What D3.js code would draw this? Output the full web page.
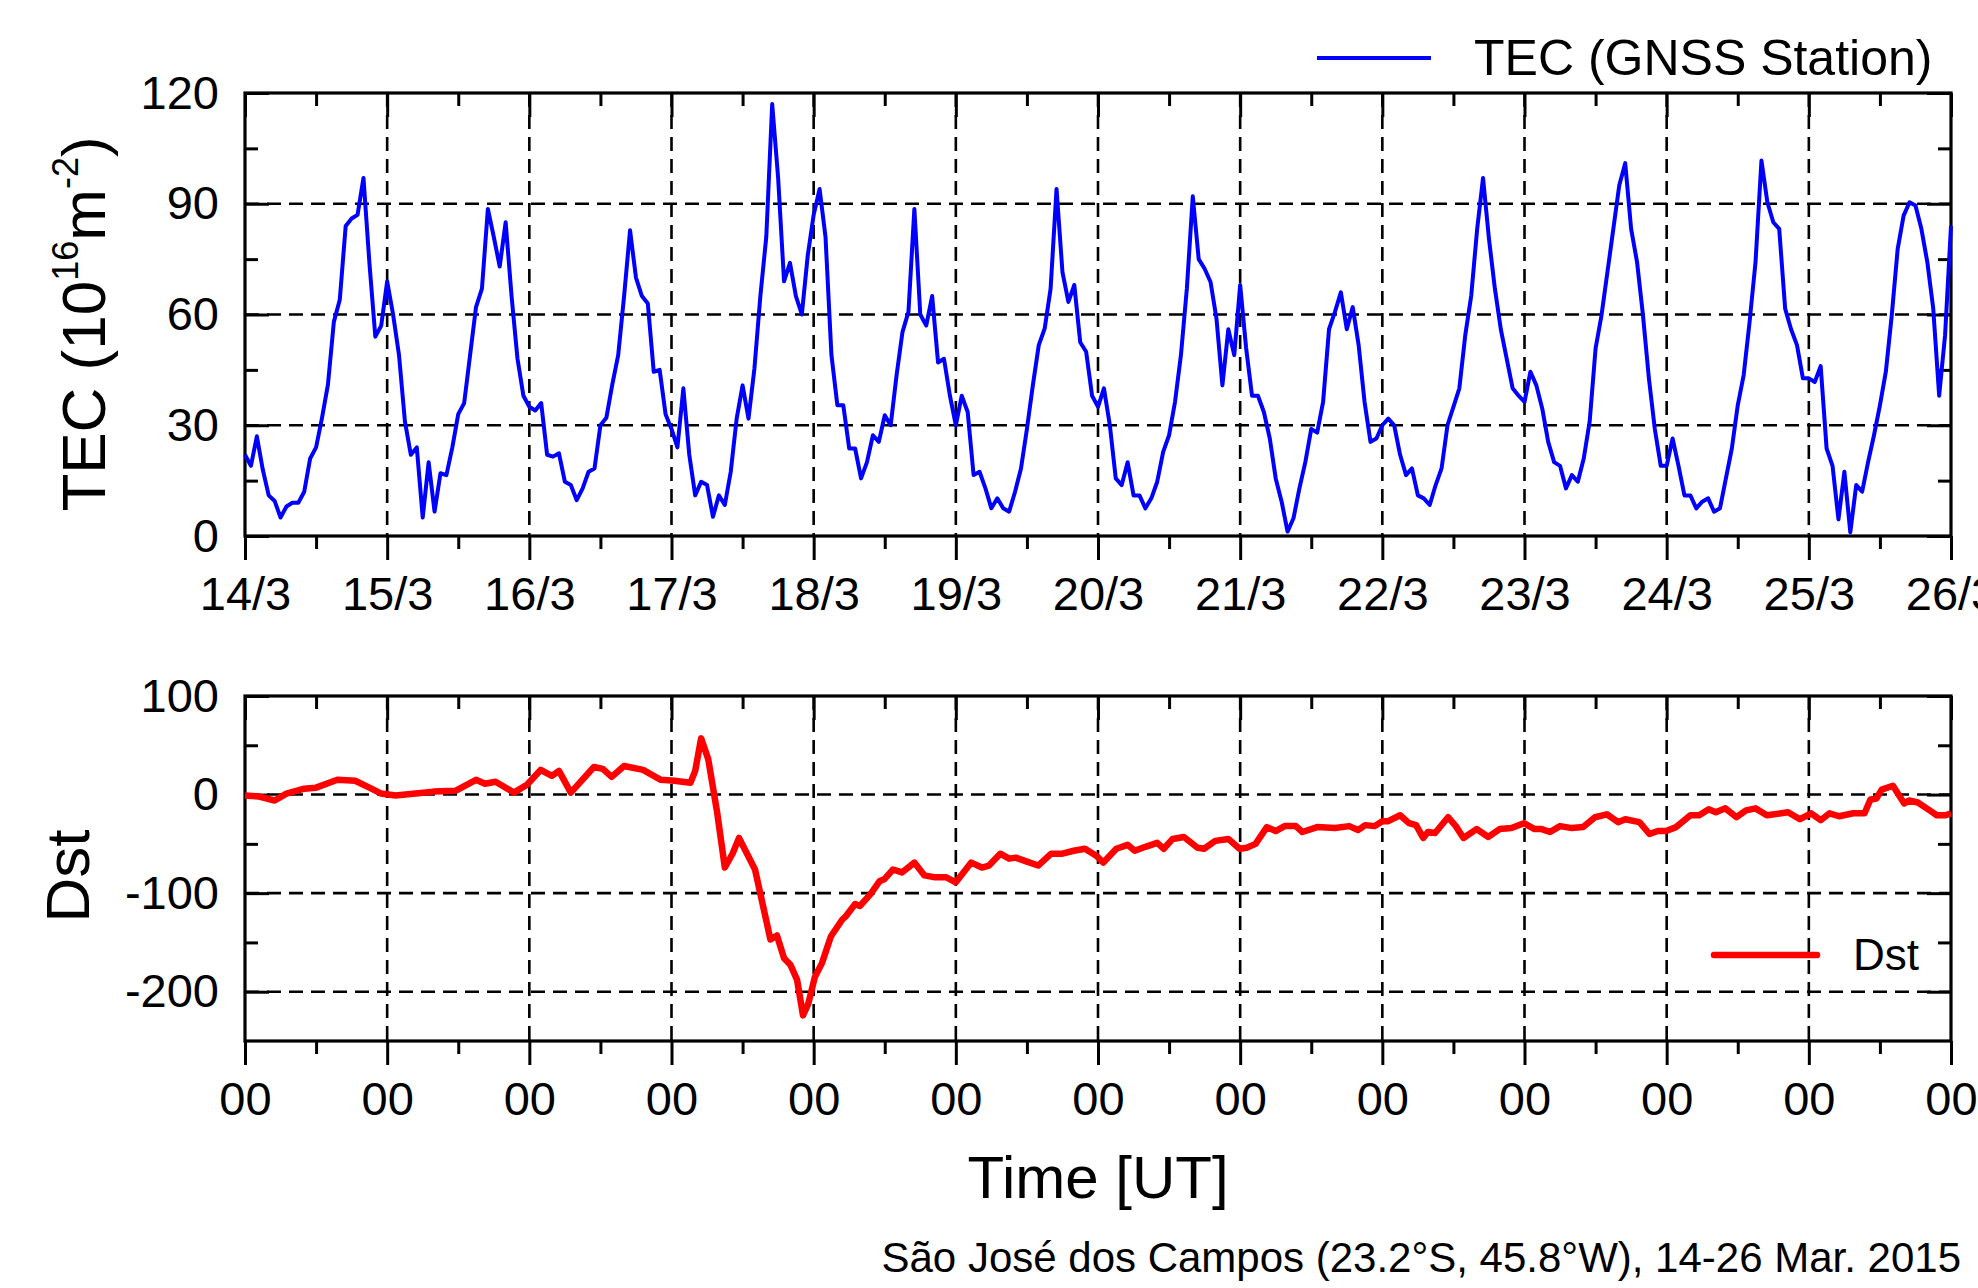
<!DOCTYPE html>
<html>
<head>
<meta charset="utf-8">
<script src="https://cdn.jsdelivr.net/npm/d3@7"></script>
<style>
  body { margin: 0; background: #fff; }
  svg { display: block; }
  text { font-family: "Liberation Sans", Arial, sans-serif; fill: #000; }
</style>
</head>
<body>
<svg id="chart" width="1978" height="1288"></svg>
<script>
// x axis: hours since 14/3 00 UT
const dayLabels = ["14/3", "15/3", "16/3", "17/3", "18/3", "19/3", "20/3", "21/3", "22/3", "23/3", "24/3", "25/3", "26/3"]
const hourLabel = "00"

// TEC, hourly values (10^16 m^-2)
const tecValues = [
  22, 19, 27, 18, 11, 9.5, 5, 8, 9, 9, 12, 21, 24, 32, 41, 58, 64, 84, 86, 87, 97, 74, 54, 57,             // 14/3
  69, 60, 49, 31, 22, 24, 5, 20, 6.6, 17, 16.5, 24, 33, 36, 49, 62, 67, 88.6, 81, 73, 85, 65, 48, 38,      // 15/3
  35, 34, 36, 22, 21.5, 22.4, 14.7, 13.8, 9.7, 12.9, 17.4, 18.3, 30, 32, 41, 49, 65, 82.8, 70, 65, 63, 44.5, 45, 33, // 16/3
  29, 24, 40, 22, 11, 14.7, 13.8, 5.2, 11, 8.4, 17.4, 31.8, 40.8, 31.8, 45.4, 65, 81, 117, 97, 69, 74, 65, 60, 76,   // 17/3
  87, 94, 81, 49, 35.4, 35.4, 23.7, 23.7, 15.6, 20, 27.3, 25.5, 32.7, 30, 43.6, 55.3, 60.7, 88.6, 60, 57, 65, 47, 48, 38, // 18/3
  30, 38, 33.6, 16.5, 17.4, 12.9, 7.5, 10.2, 7.5, 6.6, 12, 18.3, 29, 40.8, 51.7, 56.2, 67, 94, 71.5, 63.4, 68, 52.5, 49.9, 38, // 19/3
  35, 40, 30, 15.6, 13.8, 20, 11, 11, 7.5, 10.2, 14.7, 22.8, 27.3, 36.3, 49, 67, 92, 75, 72.4, 68.8, 58.9, 40.8, 56, 49, // 20/3
  68, 51, 38, 38, 33.6, 26.4, 15.6, 9.3, 1.2, 4.8, 12.9, 20, 29, 28, 36.3, 56, 60.7, 66, 56, 62, 51.7, 36.3, 25.5, 26.4, // 21/3
  30, 31.8, 30, 22, 16.5, 18.3, 11, 10.2, 8.4, 13.8, 18.3, 30, 35, 40, 54.4, 65, 83, 97, 80.5, 67, 56, 48, 40, 38,   // 22/3
  36.3, 44.5, 40.8, 34.5, 25.5, 20, 19, 12.9, 16.5, 14.7, 21, 31, 50.8, 59.8, 71.5, 83.2, 95, 101, 83.2, 74.2, 59.8, 42.7, 29, 19, // 23/3
  19, 26.4, 19, 11, 11, 7.5, 9.3, 10.2, 6.6, 7.5, 15.6, 23.7, 35.4, 43.6, 58, 74.2, 101.7, 90.4, 85, 83.2, 61.6, 56, 51.7, 42.7, // 24/3
  42.7, 41.7, 46, 23.7, 19, 4.5, 17.4, 1, 13.8, 12, 20, 27.3, 35.4, 44.5, 59.8, 77.8, 86.8, 90.4, 89.5, 83.2, 74.2, 61.6, 38, 54.4, // 25/3
  84
]

// Dst (nT) at the hours where it turns
const dstHours = [0, 2.4, 5, 7, 10, 12, 15.6, 18.6, 21, 23, 25.4, 28.8, 31.8, 35.6, 39, 40.5, 42.3, 45.4, 47.6, 49.9,
  51.8, 53, 55, 58.9, 60.4, 61.9, 64, 67.2, 70.2, 72.5, 75.2, 76, 77, 78.2, 79.7, 81, 82.3, 83.4, 86.1, 88.7,
  89.8, 91, 92.1, 93.2, 94.2, 95.1, 96.2, 97.4, 98.9, 100.8, 101.5, 103, 103.8, 105.6, 107.1, 107.9, 109.4, 110.9, 113, 114.7,
  116.5, 118.4, 120, 122.6, 124.4, 125.6, 127.5, 129, 130.1, 132, 133.9, 136.1, 138, 139.9, 141.8, 143.7, 144.9, 147.1, 149, 150.2,
  152, 154, 155.1, 156.6, 158.5, 160.8, 161.9, 163.8, 166, 167.9, 169.1, 170.6, 172.5, 174, 175.5, 177.4, 178.5, 181, 184, 186.4,
  187.9, 189.1, 190.7, 192, 193, 195, 196.5, 197.7, 198.9, 199.7, 200.9, 203.1, 204.4, 205.7, 207.9, 209.9, 211.8, 213.8, 215.9, 217.7,
  218.9, 220.3, 222, 224, 225.9, 227.9, 229.9, 231.8, 233, 235.4, 237.1, 238.5, 239.9, 241.6, 244, 245.5, 247.1, 248.3, 249.9, 251.8,
  253.4, 255, 256.9, 260.5, 262.5, 264.4, 266, 267.5, 269.1, 271.5, 273.4, 274.4, 275.4, 276.3, 278.2, 280.1, 280.9, 282.4, 284.4, 285.6,
  287.1, 288]
const dstValues = [-1, -2, -6, 1, 6, 7, 15, 14, 7, 1, -1, 1, 3, 4, 15, 11, 13, 2, 10, 25,
  19, 24, 2, 28, 26, 18, 29, 25, 15, 14, 12, 24, 57, 36, -18, -74, -60, -44, -76, -147,
  -143, -166, -173, -188, -224, -212, -185, -171, -144, -127, -123, -111, -113, -101, -88, -86, -76, -79, -69, -82,
  -84, -84, -89, -69, -74, -72, -60, -65, -64, -68, -72, -60, -60, -57, -55, -62, -69, -55, -51, -57,
  -53, -49, -55, -45, -43, -54, -55, -47, -45, -55, -54, -50, -33, -37, -32, -32, -38, -33, -34, -32,
  -36, -31, -32, -27, -27, -21, -29, -31, -44, -38, -39, -23, -32, -44, -35, -43, -35, -34, -29, -35,
  -35, -38, -32, -34, -33, -23, -20, -28, -25, -28, -40, -37, -37, -33, -21, -21, -15, -18, -14, -23,
  -16, -14, -21, -18, -25, -19, -26, -19, -22, -19, -19, -5, -4, 5, 9, -9, -6, -8, -16, -21,
  -21, -19]

const tecTicks = [0, 30, 60, 90, 120]
const tecMinor = [15, 45, 75, 105]
const dstTicks = [-200, -100, 0, 100]
const dstMinor = [-150, -50, 50]

const svg = d3.select("#chart")
const dayHours = d3.range(0, 289, 24)
const halfHours = d3.range(12, 288, 24)

const x = d3.scaleLinear().domain([0, 288]).range([245, 1951])
const yTec = d3.scaleLinear().domain([0, 120]).range([536, 93])
const yDst = d3.scaleLinear().domain([-250, 100]).range([1041, 696])

function styleAxis(g) {
  g.select(".domain").remove()
  g.selectAll("line").attr("stroke", "#000").attr("stroke-width", 3)
  g.selectAll("text").attr("font-size", 47).attr("fill", "#000")
}

function panel(y, major, minor, xFormat) {
  const [y0, y1] = y.range()
  const g = svg.append("g")

  // dashed grid
  g.append("g").selectAll("line")
    .data(dayHours.slice(1, -1))
    .join("line")
      .attr("x1", d => x(d)).attr("x2", d => x(d))
      .attr("y1", y1).attr("y2", y0)
      .attr("stroke", "#000").attr("stroke-width", 2.6).attr("stroke-dasharray", "14,8")
  g.append("g").selectAll("line")
    .data(major.filter(d => y(d) > y1 + 1 && y(d) < y0 - 1))
    .join("line")
      .attr("x1", x.range()[0]).attr("x2", x.range()[1])
      .attr("y1", d => y(d)).attr("y2", d => y(d))
      .attr("stroke", "#000").attr("stroke-width", 2.6).attr("stroke-dasharray", "14,8")

  // ticks: bottom outward, others inward
  g.append("g").attr("transform", `translate(0,${y0})`)
    .call(d3.axisBottom(x).tickValues(dayHours).tickSize(24).tickPadding(17).tickFormat(xFormat))
    .call(styleAxis)
  g.append("g").attr("transform", `translate(0,${y0})`)
    .call(d3.axisBottom(x).tickValues(halfHours).tickSize(13).tickFormat(""))
    .call(styleAxis)
  g.append("g").attr("transform", `translate(0,${y1})`)
    .call(d3.axisTop(x).tickValues(dayHours).tickSize(-24).tickFormat(""))
    .call(styleAxis)
  g.append("g").attr("transform", `translate(0,${y1})`)
    .call(d3.axisTop(x).tickValues(halfHours).tickSize(-13).tickFormat(""))
    .call(styleAxis)
  g.append("g").attr("transform", `translate(${x.range()[0]},0)`)
    .call(d3.axisLeft(y).tickValues(major).tickSize(-24).tickPadding(26).tickFormat(d => String(d)))
    .call(styleAxis)
  g.append("g").attr("transform", `translate(${x.range()[0]},0)`)
    .call(d3.axisLeft(y).tickValues(minor).tickSize(-13).tickFormat(""))
    .call(styleAxis)
  g.append("g").attr("transform", `translate(${x.range()[1]},0)`)
    .call(d3.axisRight(y).tickValues(major).tickSize(-24).tickFormat(""))
    .call(styleAxis)
  g.append("g").attr("transform", `translate(${x.range()[1]},0)`)
    .call(d3.axisRight(y).tickValues(minor).tickSize(-13).tickFormat(""))
    .call(styleAxis)

  g.append("rect")
    .attr("x", x.range()[0]).attr("y", y1)
    .attr("width", x.range()[1] - x.range()[0]).attr("height", y0 - y1)
    .attr("fill", "none").attr("stroke", "#000").attr("stroke-width", 3.2)
  return g
}

const tecPanel = panel(yTec, tecTicks, tecMinor, d => dayLabels[d / 24])
const dstPanel = panel(yDst, dstTicks, dstMinor, () => hourLabel)

// TEC line
tecPanel.append("path")
  .datum(tecValues)
  .attr("fill", "none").attr("stroke", "#0000ff").attr("stroke-width", 4)
  .attr("stroke-linejoin", "round")
  .attr("d", d3.line().x((d, i) => x(i)).y(d => yTec(d)))

// Dst line
dstPanel.append("path")
  .datum(dstHours.map((h, i) => [h, dstValues[i]]))
  .attr("fill", "none").attr("stroke", "#ff0000").attr("stroke-width", 6.5)
  .attr("stroke-linejoin", "round")
  .attr("d", d3.line().x(d => x(d[0])).y(d => yDst(d[1])))

// legends
svg.append("line").attr("x1", 1317).attr("x2", 1431).attr("y1", 58).attr("y2", 58)
  .attr("stroke", "#0000ff").attr("stroke-width", 4)
svg.append("text").attr("x", 1474).attr("y", 75).attr("font-size", 50).text("TEC (GNSS Station)")

svg.append("line").attr("x1", 1714).attr("x2", 1817).attr("y1", 955).attr("y2", 955)
  .attr("stroke", "#ff0000").attr("stroke-width", 6.5).attr("stroke-linecap", "round")
svg.append("text").attr("x", 1853).attr("y", 970).attr("font-size", 44).text("Dst")

// axis titles
const tecTitle = svg.append("text")
  .attr("transform", "translate(105,324) rotate(-90)")
  .attr("text-anchor", "middle").attr("font-size", 62)
tecTitle.append("tspan").text("TEC (10")
tecTitle.append("tspan").attr("font-size", 36).attr("dy", -27).text("16")
tecTitle.append("tspan").attr("dy", 27).text("m")
tecTitle.append("tspan").attr("font-size", 36).attr("dy", -27).text("-2")
tecTitle.append("tspan").attr("dy", 27).text(")")

svg.append("text")
  .attr("transform", "translate(89,876) rotate(-90)")
  .attr("text-anchor", "middle").attr("font-size", 62).text("Dst")

svg.append("text").attr("x", 1098).attr("y", 1198)
  .attr("text-anchor", "middle").attr("font-size", 60).text("Time [UT]")

svg.append("text").attr("x", 1961).attr("y", 1272)
  .attr("text-anchor", "end").attr("font-size", 42)
  .text("São José dos Campos (23.2°S, 45.8°W), 14-26 Mar. 2015")
</script>
</body>
</html>
